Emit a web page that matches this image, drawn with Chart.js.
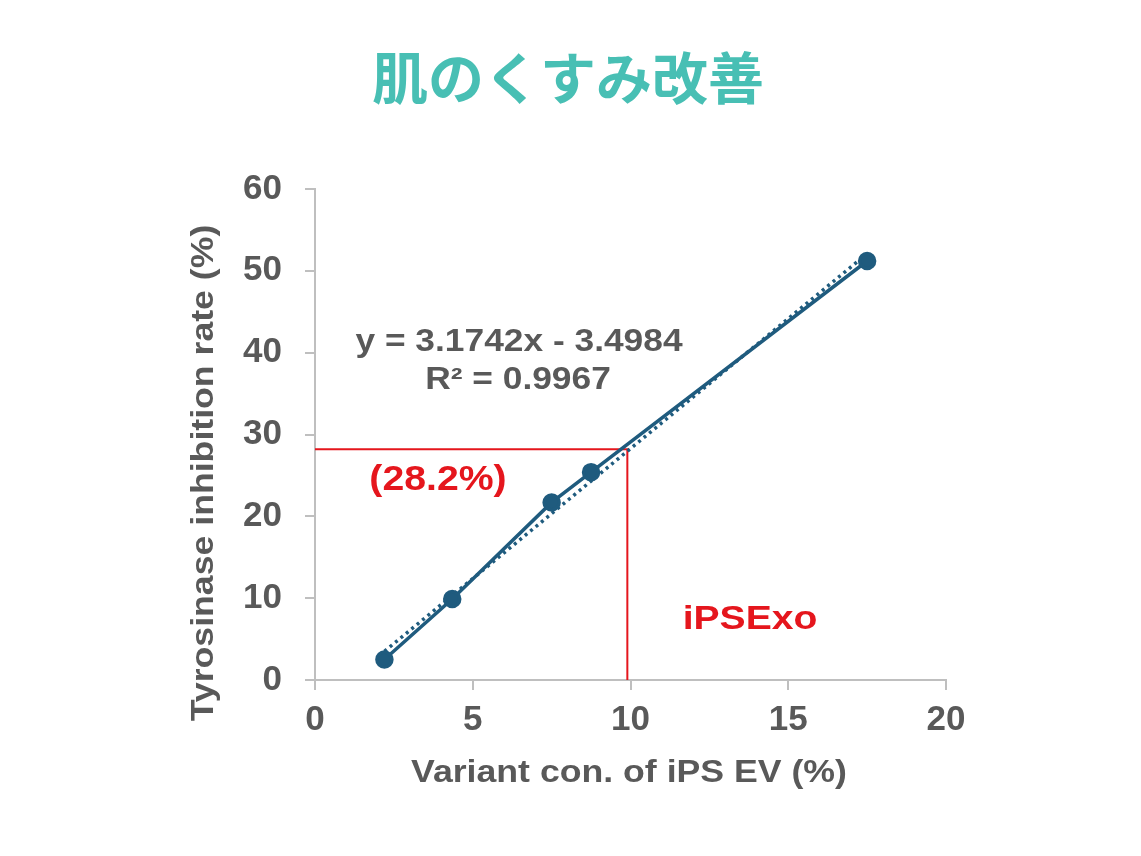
<!DOCTYPE html>
<html>
<head>
<meta charset="utf-8">
<script src="https://cdn.jsdelivr.net/npm/chart.js@4.4.0/dist/chart.umd.min.js"></script>
<style>
html, body { margin: 0; padding: 0; background: #fff; }
</style>
</head>
<body>
<canvas id="myChart" width="1141" height="856"></canvas>
<script>
'use strict';

// measured points
let xValues = [2.2, 4.35, 7.5, 8.75, 17.5];
let yValues = [2.5, 9.9, 21.7, 25.4, 51.2];

// linear trend line ends (dotted)
let trendX = [2.2, 17.5];
let trendY = [3.5, 52.1];

// red read-off lines for iPSExo
let markX = [0, 9.9, 9.9];
let markY = [28.2, 28.2, 0];

let xMin = 0, xMax = 20, xStep = 5;
let yMin = 0, yMax = 60, yStep = 10;

let titleText = '肌のくすみ改善';
let xTitle = 'Variant con. of iPS EV (%)';
let yTitle = 'Tyrosinase inhibition rate (%)';
let eqLines = ['y = 3.1742x - 3.4984', 'R² = 0.9967'];
let markLabel = '(28.2%)';
let sampleLabel = 'iPSExo';

let blue = '#1f5b7e';
let red = '#e5161d';
let grey = '#595959';
let axisGrey = '#bfbfbf';

function toPoints(xs, ys) {
    let pts = [];
    for (let i = 0; i < xs.length; i++) {
        pts.push({ x: xs[i], y: ys[i] });
    }
    return pts;
}

// text in the source is a bit wider than plain Arial, so stretch it a little
function drawText(ctx, text, x, y, font, color, stretch, angle) {
    ctx.save();
    ctx.translate(x, y);
    if (angle) ctx.rotate(angle);
    ctx.scale(stretch, 1);
    ctx.font = font;
    ctx.fillStyle = color;
    ctx.textAlign = 'center';
    ctx.textBaseline = 'middle';
    ctx.fillText(text, 0, 0);
    ctx.restore();
}

const textPlugin = {
    id: 'textPlugin',
    afterDraw(chart) {
        let ctx = chart.ctx;
        drawText(ctx, titleText, 568, 78, 'bold 56px "Noto Sans CJK JP"', '#48bfb4', 1, 0);
        drawText(ctx, xTitle, 629, 773, 'bold 31px "Liberation Sans"', grey, 1.15, 0);
        drawText(ctx, yTitle, 204, 473, 'bold 31px "Liberation Sans"', grey, 1.15, -Math.PI / 2);
        drawText(ctx, eqLines[0], 519, 342, 'bold 31px "Liberation Sans"', grey, 1.14, 0);
        drawText(ctx, eqLines[1], 518, 380, 'bold 31px "Liberation Sans"', grey, 1.14, 0);
        drawText(ctx, markLabel, 438, 480, 'bold 35px "Liberation Sans"', red, 1.12, 0);
        drawText(ctx, sampleLabel, 750, 620, 'bold 34px "Liberation Sans"', red, 1.15, 0);
    }
};

const data = {
    datasets: [{
        label: 'data',
        data: toPoints(xValues, yValues),
        showLine: true,
        borderColor: blue,
        backgroundColor: blue,
        borderWidth: 3.5,
        pointRadius: 7.5,
        pointHoverRadius: 7.5,
        order: 0
    }, {
        label: 'trend',
        data: toPoints(trendX, trendY),
        showLine: true,
        borderColor: blue,
        borderWidth: 3.5,
        borderDash: [3, 4],
        pointRadius: 0,
        order: 1
    }, {
        label: 'mark',
        data: toPoints(markX, markY),
        showLine: true,
        borderColor: red,
        borderWidth: 2,
        pointRadius: 0,
        order: 2
    }]
};

const config = {
    type: 'scatter',
    data,
    options: {
        responsive: false,
        animation: false,
        devicePixelRatio: 1,
        layout: {
            padding: { left: 0, right: 195, top: 189, bottom: 0 }
        },
        plugins: {
            legend: { display: false },
            tooltip: { enabled: false }
        },
        scales: {
            x: {
                type: 'linear',
                min: xMin,
                max: xMax,
                ticks: {
                    stepSize: xStep,
                    color: grey,
                    padding: 9,
                    font: { family: 'Liberation Sans', size: 35, weight: 'bold' }
                },
                grid: {
                    drawOnChartArea: false,
                    tickLength: 10,
                    color: axisGrey,
                    lineWidth: 2
                },
                border: { color: axisGrey, width: 2 },
                afterFit(scale) { scale.height = 176; }
            },
            y: {
                type: 'linear',
                min: yMin,
                max: yMax,
                ticks: {
                    stepSize: yStep,
                    color: grey,
                    padding: 23,
                    font: { family: 'Liberation Sans', size: 35, weight: 'bold' }
                },
                grid: {
                    drawOnChartArea: false,
                    tickLength: 10,
                    color: axisGrey,
                    lineWidth: 2
                },
                border: { color: axisGrey, width: 2 },
                afterFit(scale) { scale.width = 315; }
            }
        }
    },
    plugins: [textPlugin]
};

var myChart = new Chart(document.getElementById('myChart'), config);
</script>
</body>
</html>
